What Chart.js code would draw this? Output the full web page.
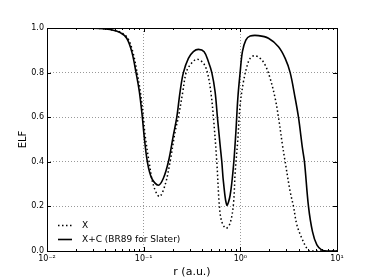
<!DOCTYPE html>
<html><head><meta charset="utf-8">
<script src="https://cdn.jsdelivr.net/npm/chart.js@4.4.1/dist/chart.umd.min.js"></script>
<style>html,body{margin:0;padding:0;background:#fff}#wrap{width:374px;height:280px}</style>
</head><body><div id="wrap"><canvas id="c" width="374" height="280"></canvas></div>
<script>
// data
const rX = [0.01,0.022,0.0354,0.0449,0.0583,0.0684,0.0771,0.0855,0.0924,0.0993,0.1034,0.1137,0.126,0.1454,0.1665,0.1876,0.2114,0.2286,0.254,0.2748,0.3021,0.3545,0.415,0.4564,0.495,0.5267,0.5709,0.6075,0.6433,0.7127,0.7842,0.8486,0.8835,0.9421,0.9952,1.077,1.168,1.263,1.40,1.603,1.806,2.034,2.292,2.48,2.728,2.91,3.278,3.546,3.845,4.331,4.88,5.28,10];
const elfX = [1.0,1.0,0.998,0.993,0.98,0.954,0.894,0.80,0.714,0.60,0.52,0.40,0.296,0.244,0.296,0.40,0.535,0.60,0.714,0.80,0.834,0.86,0.842,0.80,0.714,0.60,0.40,0.20,0.131,0.102,0.125,0.21,0.35,0.50,0.655,0.759,0.826,0.864,0.876,0.864,0.834,0.774,0.685,0.60,0.475,0.40,0.266,0.20,0.117,0.057,0.012,0.0,0.0];
const rXC = [0.01,0.022,0.0354,0.0449,0.057,0.0668,0.0753,0.0834,0.0903,0.0969,0.1009,0.1092,0.1213,0.142,0.1599,0.1802,0.203,0.2202,0.238,0.2576,0.2902,0.3268,0.3683,0.422,0.4675,0.507,0.5483,0.5792,0.6178,0.6433,0.6684,0.7246,0.7842,0.8486,0.8983,0.9421,0.9952,1.051,1.14,1.263,1.539,1.954,2.48,2.91,3.278,3.693,3.994,4.394,4.609,5.07,5.577,6.194,6.978,8.166,10];
const elfXC = [1.0,1.0,0.998,0.993,0.98,0.954,0.894,0.80,0.714,0.60,0.52,0.40,0.326,0.295,0.326,0.40,0.52,0.60,0.714,0.80,0.864,0.894,0.904,0.894,0.849,0.80,0.714,0.60,0.475,0.40,0.311,0.206,0.25,0.38,0.53,0.685,0.80,0.894,0.946,0.964,0.966,0.954,0.916,0.864,0.80,0.685,0.60,0.46,0.40,0.20,0.087,0.027,0.004,0.0,0.0];
const seriesNames = ['X','X+C (BR89 for Slater)'];
const xTickValues = [0.01,0.1,1,10];
const xTickLabels = ['10\u207B\u00B2','10\u207B\u00B9','10\u2070','10\u00B9'];
const yTickValues = [0,0.2,0.4,0.6,0.8,1.0];
const yTickLabels = ['0.0','0.2','0.4','0.6','0.8','1.0'];
const xTitle = 'r (a.u.)';
const yTitle = 'ELF';

const toPts = (xs, ys) => xs.map((x,i)=>({x:x,y:ys[i]}));

const framePlugin = {
  id:'frame',
  afterDatasetsDraw(chart){
    const ctx = chart.ctx, a = chart.chartArea;
    const xs = chart.scales.x, ys = chart.scales.y;
    ctx.save();
    ctx.strokeStyle = '#000'; ctx.lineWidth = 1;
    ctx.beginPath();
    for (let d=-2; d<1; d++){
      for (let m=1; m<=9; m++){
        const v = m*Math.pow(10,d);
        const px = Math.round(xs.getPixelForValue(v))+0.5;
        const L = (m===1)?4:2;
        ctx.moveTo(px,a.bottom); ctx.lineTo(px,a.bottom-L);
        ctx.moveTo(px,a.top); ctx.lineTo(px,a.top+L);
      }
    }
    yTickValues.forEach(v=>{
      const py = Math.round(ys.getPixelForValue(v))+0.5;
      ctx.moveTo(a.left,py); ctx.lineTo(a.left+4,py);
      ctx.moveTo(a.right,py); ctx.lineTo(a.right-4,py);
    });
    ctx.stroke();
    ctx.strokeRect(Math.round(a.left)+0.5, Math.round(a.top)+0.5, Math.round(a.right-a.left), Math.round(a.bottom-a.top));
    // legend
    ctx.font = '9px "DejaVu Sans"';
    ctx.textBaseline = 'middle';
    ctx.fillStyle = '#000';
    const rows = [225, 239];
    chart.data.datasets.forEach((ds,i)=>{
      const y = rows[i]+0.5;
      ctx.beginPath();
      ctx.lineWidth = ds.borderWidth;
      ctx.setLineDash(ds.borderDash || []);
      ctx.moveTo(58, y); ctx.lineTo(72, y);
      ctx.stroke();
      ctx.setLineDash([]);
      ctx.fillText(ds.label, 82, rows[i]+1);
    });
    ctx.restore();
  }
};

new Chart(document.getElementById('c'), {
  type:'scatter',
  data:{datasets:[
    {label:seriesNames[0], data:toPts(rX,elfX), showLine:true, borderColor:'#000', borderWidth:1.5, borderDash:[1.5,2.5], pointRadius:0, tension:0.35, fill:false},
    {label:seriesNames[1], data:toPts(rXC,elfXC), showLine:true, borderColor:'#000', borderWidth:1.6, pointRadius:0, tension:0.35, fill:false}
  ]},
  options:{
    responsive:false, animation:false, devicePixelRatio:1,
    layout:{padding:{left:0,right:37,top:28,bottom:0}},
    plugins:{legend:{display:false}, tooltip:{enabled:false}},
    scales:{
      x:{type:'logarithmic', min:0.01, max:10,
        afterBuildTicks:s=>{s.ticks = xTickValues.map(v=>({value:v, major:true}));},
        afterFit:s=>{s.height = 29;},
        ticks:{autoSkip:false, maxRotation:0, color:'#000', font:{family:'DejaVu Sans', size:8}, padding:3,
          callback:(v)=>{const i = xTickValues.findIndex(t=>Math.abs(t-v)<1e-9); return i>=0?xTickLabels[i]:'';}},
        grid:{color:'#999', drawTicks:false, lineWidth:1},
        border:{display:false, dash:[1,2]},
        title:{display:true, text:xTitle, color:'#000', font:{family:'DejaVu Sans', size:11}, padding:{top:0,bottom:1}}
      },
      y:{type:'linear', min:0, max:1,
        afterBuildTicks:s=>{s.ticks = yTickValues.map(v=>({value:v}));},
        afterFit:s=>{s.width = 47;},
        ticks:{color:'#000', font:{family:'DejaVu Sans', size:8}, padding:3,
          callback:(v)=>{const i = yTickValues.findIndex(t=>Math.abs(t-v)<1e-9); return i>=0?yTickLabels[i]:'';}},
        grid:{color:'#999', drawTicks:false, lineWidth:1},
        border:{display:false, dash:[1,2]},
        title:{display:true, text:yTitle, color:'#000', font:{family:'DejaVu Sans', size:10}, padding:{top:17,bottom:0}}
      }
    }
  },
  plugins:[framePlugin]
});
</script></body></html>
